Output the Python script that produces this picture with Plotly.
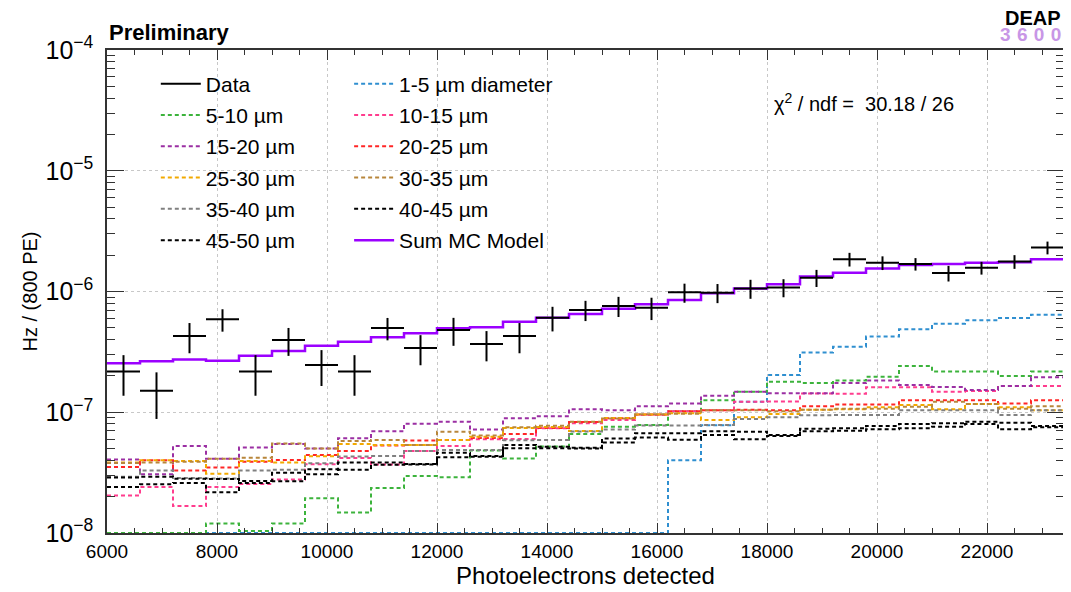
import plotly.graph_objects as go

# ---------------- data ----------------
x_start = 6000
bin_width = 600
n_bins = 29

data_vals = [2.17e-7, 1.51e-7, 4.28e-7, 5.89e-7, 2.17e-7, 3.96e-7, 2.46e-7, 2.17e-7, 4.99e-7, 3.40e-7,
             4.80e-7, 3.67e-7, 4.28e-7, 6.07e-7, 7.03e-7, 7.59e-7, 7.34e-7, 9.84e-7, 9.77e-7, 1.06e-6,
             1.08e-6, 1.30e-6, 1.85e-6, 1.73e-6, 1.69e-6, 1.42e-6, 1.57e-6, 1.77e-6, 2.31e-6]
data_err = [8.0e-8, 6.3e-8, 1.2e-7, 1.24e-7, 8.0e-8, 1.03e-7, 8.1e-8, 8.0e-8, 1.05e-7, 9.5e-8,
            1.25e-7, 1.03e-7, 1.2e-7, 1.4e-7, 1.34e-7, 1.44e-7, 1.54e-7, 1.77e-7, 1.76e-7, 1.9e-7,
            1.84e-7, 2.1e-7, 2.4e-7, 2.25e-7, 2.0e-7, 2.1e-7, 1.9e-7, 2.3e-7, 2.8e-7]

sum_mc = [2.54e-7, 2.65e-7, 2.73e-7, 2.67e-7, 2.94e-7, 3.21e-7, 3.56e-7, 3.84e-7, 4.18e-7, 4.51e-7,
          4.96e-7, 5.06e-7, 5.63e-7, 6.07e-7, 6.51e-7, 7.21e-7, 7.84e-7, 8.51e-7, 9.66e-7, 1.06e-6,
          1.15e-6, 1.33e-6, 1.43e-6, 1.55e-6, 1.66e-6, 1.69e-6, 1.73e-6, 1.75e-6, 1.85e-6]

d_1_5 = [0, 0, 0, 0, 0, 0, 0, 0, 0, 0, 0, 0, 0, 0, 0, 0, 0,
         4.0e-8, 7.8e-8, 1.22e-7, 2.03e-7, 3.12e-7, 3.49e-7, 4.23e-7, 4.86e-7, 5.41e-7, 5.77e-7, 6.03e-7, 6.43e-7]
d_5_10 = [0, 0, 0, 1.2e-8, 1.04e-8, 1.2e-8, 1.94e-8, 1.48e-8, 2.36e-8, 2.96e-8,
          2.9e-8, 4.83e-8, 4.14e-8, 5.2e-8, 6.61e-8, 7.6e-8, 7.84e-8, 1.02e-7, 1.26e-7, 1.48e-7,
          1.79e-7, 1.75e-7, 1.83e-7, 1.97e-7, 2.42e-7, 2.17e-7, 2.17e-7, 2.0e-7, 2.17e-7]
d_10_15 = [2.04e-8, 2.4e-8, 1.67e-8, 2.4e-8, 2.55e-8, 2.77e-8, 3.71e-8, 4.18e-8, 3.7e-8, 4.78e-8,
           5.25e-8, 5.97e-8, 6.0e-8, 7.36e-8, 8.1e-8, 8.63e-8, 9.5e-8, 1.02e-7, 1.04e-7, 1.22e-7,
           1.23e-7, 1.43e-7, 1.42e-7, 1.61e-7, 1.61e-7, 1.48e-7, 1.50e-7, 1.65e-7, 1.65e-7]
d_15_20 = [4.07e-8, 3.06e-8, 5.25e-8, 4.12e-8, 5.1e-8, 5.46e-8, 5.0e-8, 6.1e-8, 6.95e-8, 8.05e-8,
           8.35e-8, 7.2e-8, 8.9e-8, 9.25e-8, 1.06e-7, 1.04e-7, 1.12e-7, 1.18e-7, 1.37e-7, 1.48e-7,
           1.44e-7, 1.44e-7, 1.75e-7, 1.83e-7, 1.68e-7, 1.62e-7, 1.53e-7, 1.65e-7, 1.95e-7]
d_20_25 = [3.52e-8, 4.0e-8, 3.3e-8, 3.48e-8, 3.9e-8, 4.02e-8, 4.42e-8, 4.78e-8, 5.3e-8, 5.83e-8,
           5.89e-8, 6.12e-8, 6.61e-8, 7.41e-8, 8.3e-8, 8.93e-8, 9.6e-8, 1.02e-7, 1.04e-7, 1.05e-7,
           1.04e-7, 1.12e-7, 1.16e-7, 1.16e-7, 1.26e-7, 1.26e-7, 1.26e-7, 1.18e-7, 1.26e-7]
d_25_30 = [3.83e-8, 4.0e-8, 3.95e-8, 3.1e-8, 3.95e-8, 3.84e-8, 4.32e-8, 5.46e-8, 5.36e-8, 5.36e-8,
           5.89e-8, 6.28e-8, 7.41e-8, 7.55e-8, 7.0e-8, 8.96e-8, 9.6e-8, 9.8e-8, 8.63e-8, 9.07e-8,
           9.67e-8, 1.05e-7, 1.06e-7, 1.10e-7, 1.15e-7, 1.06e-7, 1.17e-7, 1.10e-7, 1.04e-7]
d_30_35 = [3.8e-8, 3.83e-8, 3.9e-8, 4.12e-8, 4.2e-8, 5.52e-8, 5.0e-8, 5.78e-8, 5.89e-8, 5.36e-8,
           6.9e-8, 6.42e-8, 7.52e-8, 7.72e-8, 8.33e-8, 8.88e-8, 9.62e-8, 9.72e-8, 1.04e-7, 1.04e-7,
           1.02e-7, 1.05e-7, 1.07e-7, 1.07e-7, 1.11e-7, 1.22e-7, 1.17e-7, 1.07e-7, 1.12e-7]
d_35_40 = [2.92e-8, 3.3e-8, 2.85e-8, 2.83e-8, 3.29e-8, 3.34e-8, 3.78e-8, 4.3e-8, 4.34e-8, 4.78e-8,
           4.87e-8, 4.87e-8, 5.85e-8, 5.89e-8, 6.93e-8, 7.18e-8, 7.77e-8, 7.77e-8, 7.84e-8, 8.8e-8,
           9.07e-8, 9.45e-8, 9.5e-8, 9.5e-8, 1.04e-7, 1.04e-7, 1.04e-7, 9.5e-8, 1.04e-7]
d_40_45 = [2.88e-8, 2.92e-8, 2.82e-8, 2.8e-8, 2.7e-8, 3.15e-8, 3.38e-8, 3.84e-8, 3.84e-8, 3.73e-8,
           4.63e-8, 4.34e-8, 5.36e-8, 5.19e-8, 5.09e-8, 6.05e-8, 6.7e-8, 6.7e-8, 6.95e-8, 6.9e-8,
           6.48e-8, 7.3e-8, 7.36e-8, 7.69e-8, 7.99e-8, 8.1e-8, 8.35e-8, 8.2e-8, 7.69e-8]
d_45_50 = [2.4e-8, 2.53e-8, 2.6e-8, 2.17e-8, 2.6e-8, 2.68e-8, 3.07e-8, 3.34e-8, 3.68e-8, 3.7e-8,
           4.23e-8, 4.28e-8, 5.03e-8, 5.03e-8, 5.0e-8, 5.62e-8, 6.18e-8, 5.93e-8, 6.48e-8, 5.97e-8,
           6.36e-8, 6.96e-8, 7.04e-8, 7.23e-8, 7.36e-8, 7.59e-8, 7.99e-8, 7.23e-8, 7.51e-8]

components = [
    ("1-5 µm diameter", d_1_5, "#2f8fd0", "legend2"),
    ("5-10 µm", d_5_10, "#3cb33c", "legend"),
    ("10-15 µm", d_10_15, "#ff3d8e", "legend2"),
    ("15-20 µm", d_15_20, "#9b2fa3", "legend"),
    ("20-25 µm", d_20_25, "#ff2626", "legend2"),
    ("25-30 µm", d_25_30, "#f2a900", "legend"),
    ("30-35 µm", d_30_35, "#b8863b", "legend2"),
    ("35-40 µm", d_35_40, "#808080", "legend"),
    ("40-45 µm", d_40_45, "#000000", "legend2"),
    ("45-50 µm", d_45_50, "#000000", "legend"),
]

y_floor = 1e-8  # empty bins drawn on the bottom of the frame, like ROOT

edges = [x_start + bin_width * i for i in range(n_bins + 1)]
centers = [x_start + bin_width * (i + 0.5) for i in range(n_bins)]


def step_y(vals):
    v = [max(a, y_floor) for a in vals]
    return v + [v[-1]]


fig = go.Figure()

# legend proxy for data (solid line)
fig.add_trace(go.Scatter(x=[None], y=[None], mode="lines", name="Data",
                         line=dict(color="black", width=2), legend="legend",
                         legendgroup="g0"))

for k, (name, vals, col, leg) in enumerate(components):
    fig.add_trace(go.Scatter(x=edges, y=step_y(vals), mode="lines", name=name,
                             line=dict(color=col, width=2, dash="4px,3px", shape="hv"),
                             legend=leg, legendgroup=f"g{k+1}"))

fig.add_trace(go.Scatter(x=edges, y=step_y(sum_mc), mode="lines", name="Sum MC Model",
                         line=dict(color="#9b00ff", width=2.5, shape="hv"),
                         legend="legend2", legendgroup="g99"))

fig.add_trace(go.Scatter(x=centers, y=data_vals, mode="markers", showlegend=False,
                         marker=dict(size=0.1, color="black"),
                         error_x=dict(type="constant", value=bin_width / 2, width=0,
                                      thickness=2, color="black"),
                         error_y=dict(type="data", array=data_err, width=0,
                                      thickness=2, color="black")))

axis_col = "#333333"
fig.update_xaxes(range=[6000, 23400], tick0=6000, dtick=2000, tickformat="d",
                 ticks="inside", ticklen=10, automargin=False,
                 tickwidth=1.2, tickcolor=axis_col, showline=True, linecolor=axis_col,
                 linewidth=1.5, mirror="ticks", showgrid=True, gridcolor="#c8c8c8",
                 griddash="dot", gridwidth=1, zeroline=False,
                 minor=dict(dtick=500, ticks="inside", ticklen=5, tickcolor=axis_col,
                            tickwidth=1.2, showgrid=False),
                 tickfont=dict(size=19), title=dict(text="Photoelectrons detected",
                                                    font=dict(size=24), standoff=6))
fig.update_yaxes(type="log", range=[-8, -4], dtick=1, exponentformat="power",
                 showexponent="all", ticks="inside", ticklen=17, tickwidth=1.2,
                 automargin=False, ticklabelstandoff=8,
                 tickcolor=axis_col, showline=True, linecolor=axis_col, linewidth=1.5,
                 mirror="ticks", showgrid=True, gridcolor="#c8c8c8", griddash="dot",
                 gridwidth=1, zeroline=False,
                 minor=dict(dtick="D1", ticks="inside", ticklen=8, tickcolor=axis_col,
                            tickwidth=1.2, showgrid=False),
                 tickfont=dict(size=20), title=dict(text="Hz / (800 PE)", font=dict(size=20),
                                                    standoff=2))

legend_common = dict(bgcolor="rgba(0,0,0,0)", borderwidth=0, font=dict(size=21),
                     tracegroupgap=1, traceorder="grouped", xanchor="left", yanchor="top",
                     itemwidth=40)
# the page places the figure 8 px in from the top-left corner
fig.update_layout(
    width=1063, height=584,
    margin=dict(l=99, r=7, t=42, b=59, autoexpand=False),
    plot_bgcolor="white", paper_bgcolor="white",
    font=dict(family="Liberation Sans, Arial, sans-serif", size=20, color="black"),
    legend=dict(x=0.051, y=0.972, **legend_common),
    legend2=dict(x=0.253, y=0.972, **legend_common),
    annotations=[
        dict(text="<b>Preliminary</b>", xref="paper", yref="paper", x=0.0, y=1.037,
             xanchor="left", yanchor="middle", showarrow=False, font=dict(size=22)),
        dict(text="<b>DEAP</b>", xref="paper", yref="paper", x=0.999, y=1.066,
             xanchor="right", yanchor="middle", showarrow=False, font=dict(size=20)),
        dict(text="<b>3\u20046\u20040\u20040</b>", xref="paper", yref="paper", x=0.999, y=1.033,
             xanchor="right", yanchor="middle", showarrow=False,
             font=dict(size=19, color="#c896e6")),
        dict(text="χ<sup>2</sup> / ndf =  30.18 / 26", xref="paper", yref="paper",
             x=0.695, y=0.892, xanchor="left", yanchor="middle", showarrow=False,
             font=dict(size=20)),
    ],
)

fig.write_html("out.html")
